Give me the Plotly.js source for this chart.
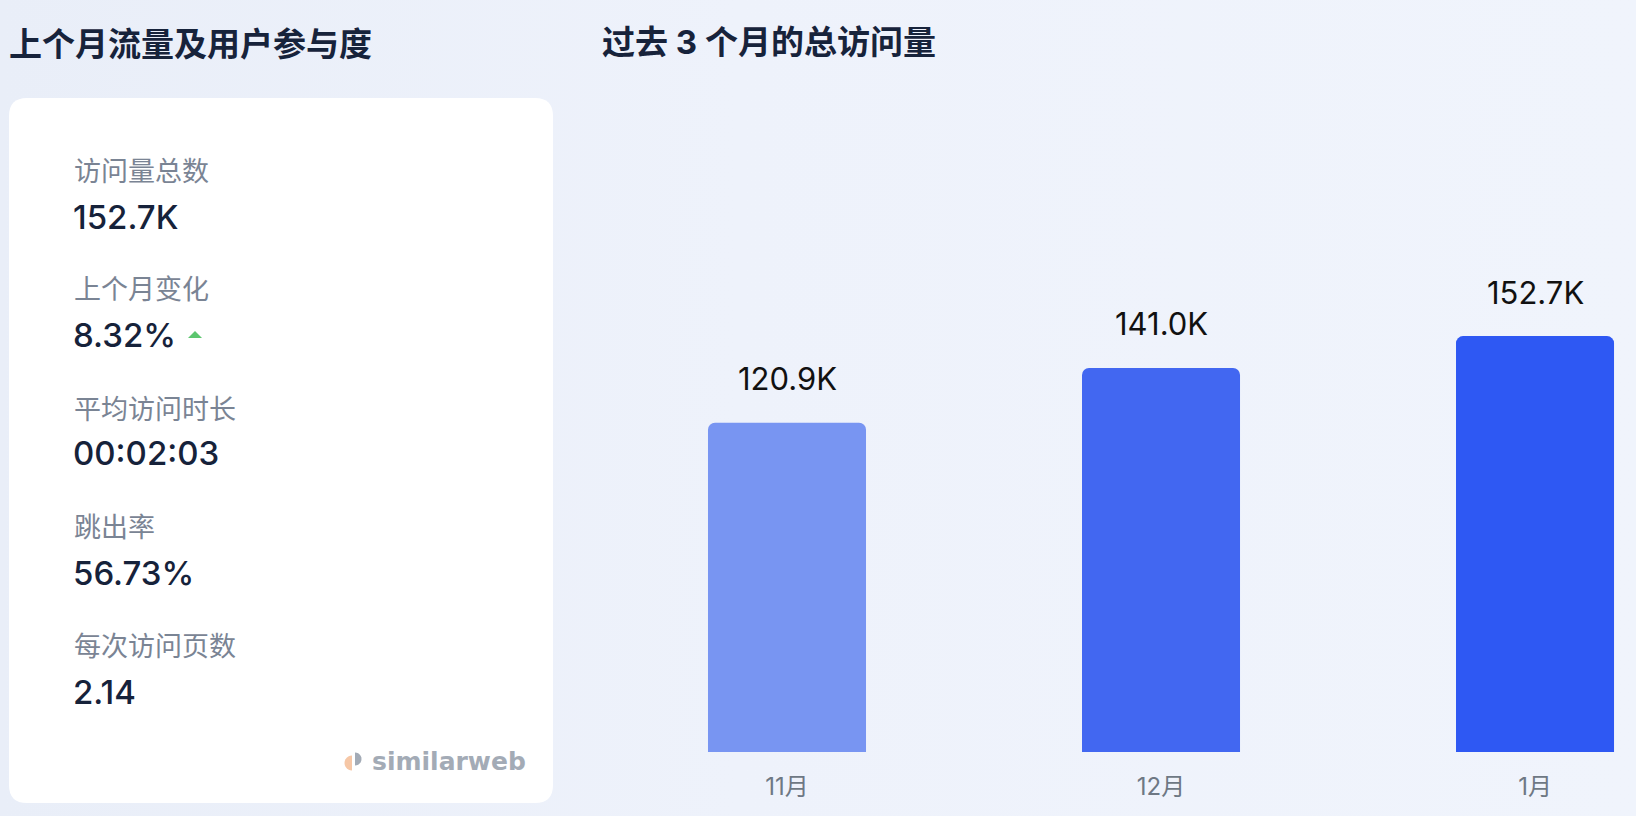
<!DOCTYPE html>
<html>
<head>
<meta charset="utf-8">
<script src="https://cdn.plot.ly/plotly-3.0.1.min.js"></script>
<style>
  html, body { margin: 0; padding: 0; }
  body { width: 1636px; height: 816px; background: linear-gradient(90deg, #e9eef8 0%, #eef2fb 45%, #f0f4fc 100%); }
  #chart { width: 1636px; height: 816px; }
</style>
</head>
<body>
<div id="chart"></div>
<script>
const W = 1636;
const H = 816;

const months = ['11月', '12月', '1月'];
const visits = [120.9, 141.0, 152.7];
const barColors = ['#7895f2', '#4267f1', '#2e58f3'];

const metricLabels = ['访问量总数', '上个月变化', '平均访问时长', '跳出率', '每次访问页数'];
const metricValues = ['152.7K', '8.32%', '00:02:03', '56.73%', '2.14'];

const leftTitle = '上个月流量及用户参与度';
const rightTitle = '过去 3 个月的总访问量';

const CJK = '"Noto Sans CJK SC", "Noto Sans", sans-serif';
const NUM = 'Inter, Roboto, "Noto Sans CJK SC", sans-serif';

// pixel -> paper helpers
function px(x) { return x / W; }
function py(y) { return 1 - y / H; }

function roundedRect(x0, y0, x1, y1, r) {
    const p = (x, y) => px(x) + ',' + py(y);
    return 'M' + p(x0 + r, y0) + ' L' + p(x1 - r, y0) + ' Q' + p(x1, y0) + ' ' + p(x1, y0 + r) +
        ' L' + p(x1, y1 - r) + ' Q' + p(x1, y1) + ' ' + p(x1 - r, y1) +
        ' L' + p(x0 + r, y1) + ' Q' + p(x0, y1) + ' ' + p(x0, y1 - r) +
        ' L' + p(x0, y0 + r) + ' Q' + p(x0, y0) + ' ' + p(x0 + r, y0) + ' Z';
}

function halfCircle(cx, cy, r, side) {
    const p = (x, y) => px(x) + ',' + py(y);
    let s = 'M' + p(cx, cy - r);
    const n = 12;
    for (let i = 1; i <= n; i++) {
        const a = Math.PI * i / n;
        const dx = Math.sin(a) * r * side;
        const dy = -Math.cos(a) * r;
        s += ' L' + p(cx + dx, cy + dy);
    }
    return s + ' Z';
}

const shapes = [
    {
        type: 'path', xref: 'paper', yref: 'paper', layer: 'below',
        path: roundedRect(9, 98, 553, 803, 18),
        fillcolor: '#ffffff', line: { width: 0 }
    },
    {
        type: 'path', xref: 'paper', yref: 'paper',
        path: 'M' + px(188) + ',' + py(338) + ' L' + px(202) + ',' + py(338) + ' L' + px(195) + ',' + py(331) + ' Z',
        fillcolor: '#5cc66f', line: { width: 0 }
    },
    {
        type: 'path', xref: 'paper', yref: 'paper',
        path: halfCircle(352, 763, 7.5, -1),
        fillcolor: '#f6c7a6', line: { width: 0 }
    },
    {
        type: 'path', xref: 'paper', yref: 'paper',
        path: halfCircle(355, 759, 6.5, 1),
        fillcolor: '#a3abb6', line: { width: 0 }
    }
];

const annotations = [];

function addText(text, x, y, size, color, family, weight, anchor) {
    annotations.push({
        text: text, xref: 'paper', yref: 'paper',
        x: px(x), y: py(y), xanchor: anchor || 'left', yanchor: 'middle',
        showarrow: false,
        font: { size: size, color: color, family: family, weight: weight || 400 }
    });
}

addText(leftTitle, 7, 42, 33, '#17233b', CJK, 700);
addText(rightTitle, 600, 42, 33, '#17233b', NUM, 700);

const labelY = [169, 287, 407, 525, 644];
const valueY = [217, 335, 453, 573, 692];
for (let i = 0; i < metricLabels.length; i++) {
    addText(metricLabels[i], 72, labelY[i], 27, '#7a8494', CJK, 400);
    addText(metricValues[i], 71, valueY[i], 33, '#16223a', NUM, 500);
}

addText('similarweb', 370, 761, 25, '#a3abb6', '"DejaVu Sans", sans-serif', 700);

// value labels above each bar, placed through the axes
for (let i = 0; i < months.length; i++) {
    annotations.push({
        x: months[i], y: visits[i], xref: 'x', yref: 'y',
        text: visits[i].toFixed(1) + 'K',
        showarrow: false, yanchor: 'middle', yshift: 44,
        font: { size: 31, color: '#111111', family: NUM, weight: 400 }
    });
}

const data = [{
    type: 'bar',
    x: months,
    y: visits,
    width: 0.4225,
    marker: { color: barColors, cornerradius: 7, line: { width: 0 } },
    hoverinfo: 'skip'
}];

const layout = {
    width: W,
    height: H,
    margin: { l: 0, r: 0, t: 0, b: 0 },
    paper_bgcolor: 'rgba(0,0,0,0)',
    plot_bgcolor: 'rgba(0,0,0,0)',
    showlegend: false,
    xaxis: {
        domain: [px(600), 1],
        type: 'category',
        range: [-0.5, 2.27],
        showgrid: false, zeroline: false, showline: false,
        ticks: '',
        ticklabelstandoff: 18,
        tickfont: { size: 24, color: '#6e7884', family: NUM }
    },
    yaxis: {
        domain: [py(752), 1],
        range: [0, 276.1],
        visible: false
    },
    shapes: shapes,
    annotations: annotations
};

Plotly.newPlot('chart', data, layout, { displayModeBar: false, staticPlot: true });
</script>
</body>
</html>
